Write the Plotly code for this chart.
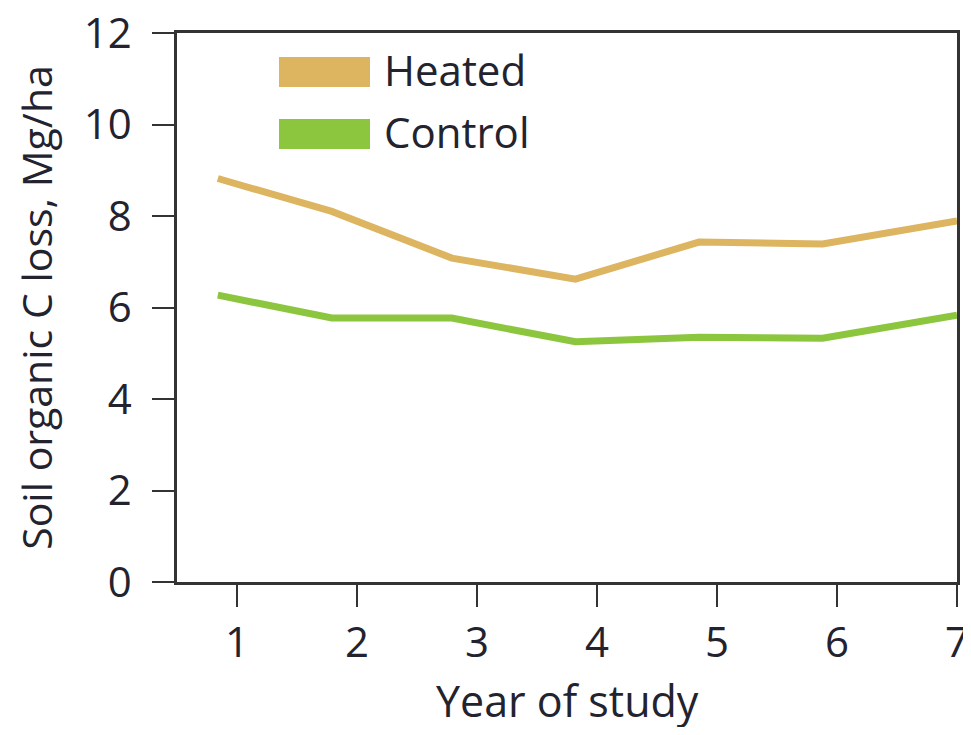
import plotly.graph_objects as go

years_pos = [0.84, 1.79, 2.79, 3.82, 4.85, 5.88, 7.0]
heated = [8.82, 8.1, 7.08, 6.62, 7.43, 7.39, 7.89]
control = [6.27, 5.77, 5.77, 5.25, 5.35, 5.33, 5.83]
x_ticks = [1, 2, 3, 4, 5, 6, 7]
y_ticks = [0, 2, 4, 6, 8, 10, 12]
series_names = ["Heated", "Control"]
colors = ["#DDB460", "#8CC63F"]
x_title = "Year of study"
y_title = "Soil organic C loss, Mg/ha"

FONT = "Open Sans"
TXT = "#23232f"

fig = go.Figure()
for name, vals, col in zip(series_names, [heated, control], colors):
    fig.add_trace(go.Scatter(x=years_pos, y=vals, mode="lines", name=name,
                             line=dict(color=col, width=7), showlegend=False))

# legend drawn as swatches + text (paper coords relative to plot area)
for i, (name, col) in enumerate(zip(series_names, colors)):
    y_top = 1 - (57 + 62 * i - 33) / 549
    y_bot = 1 - (87 + 62 * i - 33) / 549
    fig.add_shape(type="rect", xref="paper", yref="paper",
                  x0=(279 - 177) / 780, x1=(370 - 177) / 780, y0=y_bot, y1=y_top,
                  fillcolor=col, line=dict(width=0))
    fig.add_annotation(xref="paper", yref="paper", x=(382 - 177) / 780,
                       y=(y_top + y_bot) / 2 + 0.004, text=name, showarrow=False,
                       xanchor="left", yanchor="middle",
                       font=dict(family=FONT, size=42, color=TXT))

# x-axis title placed as an annotation so it can sit low like the reference
fig.add_annotation(xref="paper", yref="paper", x=0.5, y=0, yshift=-118,
                   text=x_title, showarrow=False, xanchor="center", yanchor="middle",
                   font=dict(family=FONT, size=43, color=TXT))

axis_common = dict(showline=True, linecolor="#333333", linewidth=2.5, mirror=True,
                   ticks="outside", tickcolor="#333333", tickwidth=2, ticklen=22,
                   showgrid=False, zeroline=False, automargin=False,
                   ticklabeloverflow="allow",
                   tickfont=dict(family=FONT, size=42, color=TXT))

fig.update_xaxes(range=[0.5, 7], tickvals=x_ticks, ticktext=[str(v) for v in x_ticks],
                 ticklabelstandoff=0, **axis_common)
fig.update_yaxes(range=[0, 12], tickvals=y_ticks, ticktext=[str(v) for v in y_ticks],
                 ticklabelstandoff=12,
                 title=dict(text=y_title,
                            font=dict(family=FONT, size=41, color=TXT), standoff=30),
                 **axis_common)

# page body has an 8px margin; the figure is sized/offset to compensate
fig.update_layout(width=963, height=719, paper_bgcolor="white", plot_bgcolor="white",
                  margin=dict(l=169, r=14, t=25, b=145))

fig.write_html("out.html")
